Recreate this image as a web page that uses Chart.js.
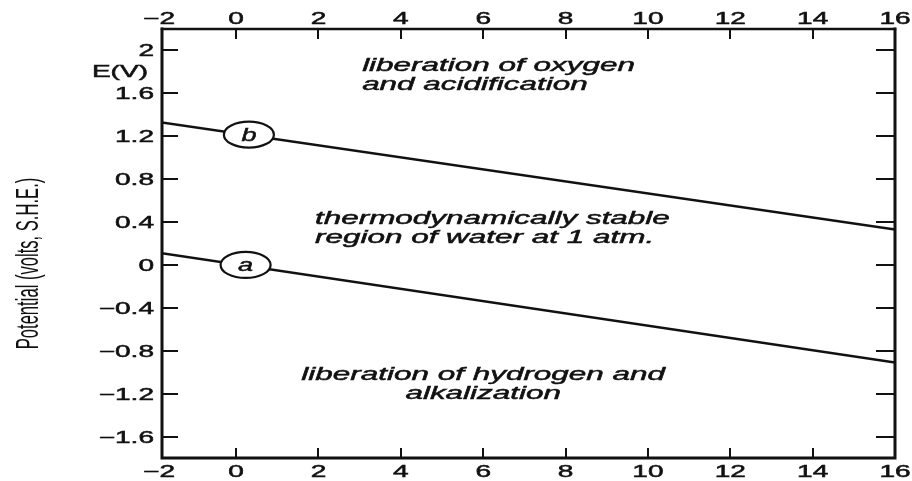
<!DOCTYPE html>
<html>
<head>
<meta charset="utf-8">
<script src="https://cdn.jsdelivr.net/npm/chart.js@4/dist/chart.umd.min.js"></script>
<style>
  html, body { margin: 0; padding: 0; background: #ffffff; }
  canvas { display: block; }
</style>
</head>
<body>
<canvas id="chart" width="912" height="481"></canvas>
<script>
// Stability field of water: E (V vs S.H.E.) against pH
const phPoints = [-2, 16];
const lineA = [0.12, -0.91];   // hydrogen evolution boundary (a)
const lineB = [1.34, 0.33];    // oxygen evolution boundary (b)

const xTicks = [-2, 0, 2, 4, 6, 8, 10, 12, 14, 16];
const xTickLabels = ['\u22122', '0', '2', '4', '6', '8', '10', '12', '14', '16'];
const yTicks = [2, 1.6, 1.2, 0.8, 0.4, 0, -0.4, -0.8, -1.2, -1.6];
const yTickLabels = ['2', '1.6', '1.2', '0.8', '0.4', '0', '\u22120.4', '\u22120.8', '\u22121.2', '\u22121.6'];

// circled line tags
const tagText = ['a', 'b'];
const tagPh = [0.23, 0.31];
const tagE = [0.0, 1.215];

// region captions
const regionText = [
  'liberation of oxygen', 'and acidification',
  'thermodynamically stable', 'region of water at 1 atm.',
  'liberation of hydrogen and', 'alkalization'
];
const regionPh = [3.06, 3.06, 1.915, 1.915, 6.0, 6.0];
const regionE = [1.809, 1.632, 0.382, 0.205, -1.072, -1.249];
const regionAlign = ['left', 'left', 'left', 'left', 'center', 'center'];

const yTitle = 'Potential (volts, S.H.E.)';
const yUnit = 'E(V)';

const FONT = "'Liberation Sans', Arial, Helvetica, sans-serif";
const SX = 1.7;   // horizontal stretch of the lettering
const INK = '#111';

function toPoints(xs, ys) {
  return xs.map((x, i) => ({ x: x, y: ys[i] }));
}

// filled text with a hairline outline so the letters read a little heavier
function wideText(ctx, text, x, y, align, baseline, font, sx) {
  ctx.save();
  ctx.translate(x, y);
  ctx.scale(sx, 1);
  ctx.font = font;
  ctx.textAlign = align;
  ctx.textBaseline = baseline;
  ctx.fillStyle = INK;
  ctx.strokeStyle = INK;
  ctx.lineWidth = 0.5;
  ctx.fillText(text, 0, 0);
  ctx.strokeText(text, 0, 0);
  ctx.restore();
}

const frameAndText = {
  id: 'frameAndText',
  afterDraw(chart) {
    const ctx = chart.ctx;
    const a = chart.chartArea;
    const xs = chart.scales.x;
    const ys = chart.scales.y;
    ctx.save();
    ctx.strokeStyle = INK;
    ctx.fillStyle = INK;
    ctx.lineCap = 'square';

    // frame
    ctx.lineWidth = 3;
    ctx.beginPath();
    ctx.moveTo(a.left, a.top); ctx.lineTo(a.left, a.bottom);
    ctx.moveTo(a.left, a.bottom); ctx.lineTo(a.right, a.bottom);
    ctx.moveTo(a.right, a.top); ctx.lineTo(a.right, a.bottom);
    ctx.stroke();
    ctx.lineWidth = 2.5;
    ctx.beginPath();
    ctx.moveTo(a.left, a.top); ctx.lineTo(a.right, a.top);
    ctx.stroke();

    // inward tick marks
    ctx.lineWidth = 2;
    ctx.lineCap = 'butt';
    ctx.beginPath();
    xTicks.forEach(v => {
      const px = Math.round(xs.getPixelForValue(v));
      if (px <= a.left + 2 || px >= a.right - 2) return;
      ctx.moveTo(px, a.top); ctx.lineTo(px, a.top + 10);
      ctx.moveTo(px, a.bottom); ctx.lineTo(px, a.bottom - 10);
    });
    yTicks.forEach(v => {
      const py = Math.round(ys.getPixelForValue(v));
      ctx.moveTo(a.left, py); ctx.lineTo(a.left + 16, py);
      ctx.moveTo(a.right, py); ctx.lineTo(a.right - 19, py);
    });
    ctx.stroke();

    // tick labels
    const tickFont = '16.5px ' + FONT;
    xTicks.forEach((v, i) => {
      let px = xs.getPixelForValue(v);
      if (px < a.left) px = a.left - 3;
      wideText(ctx, xTickLabels[i], px, a.top - 5, 'center', 'alphabetic', tickFont, SX);
      wideText(ctx, xTickLabels[i], px, a.bottom + 19, 'center', 'alphabetic', tickFont, SX);
    });
    yTicks.forEach((v, i) => {
      const py = ys.getPixelForValue(v);
      wideText(ctx, yTickLabels[i], a.left - 8, py + 6, 'right', 'alphabetic', tickFont, SX);
    });
    wideText(ctx, yUnit, a.left - 14, ys.getPixelForValue(1.755), 'right', 'alphabetic', tickFont, SX);

    // rotated axis title
    ctx.save();
    ctx.translate(38, (a.top + a.bottom) / 2 + 20);
    ctx.scale(1.85, 1);
    ctx.rotate(-Math.PI / 2);
    ctx.font = '16.6px ' + FONT;
    ctx.textAlign = 'center';
    ctx.textBaseline = 'alphabetic';
    ctx.fillStyle = INK;
    ctx.fillText(yTitle, 0, 0);
    ctx.restore();

    // region captions
    const capFont = 'italic 18.5px ' + FONT;
    regionText.forEach((t, i) => {
      wideText(ctx, t, xs.getPixelForValue(regionPh[i]), ys.getPixelForValue(regionE[i]),
        regionAlign[i], 'alphabetic', capFont, SX);
    });

    // circled tags on the boundary lines
    tagText.forEach((t, i) => {
      const cx = xs.getPixelForValue(tagPh[i]);
      const cy = ys.getPixelForValue(tagE[i]);
      ctx.beginPath();
      ctx.ellipse(cx, cy, 25, 13, 0, 0, Math.PI * 2);
      ctx.fillStyle = '#fff';
      ctx.fill();
      ctx.lineWidth = 2.2;
      ctx.strokeStyle = INK;
      ctx.stroke();
      wideText(ctx, t, cx, cy + 6, 'center', 'alphabetic', 'italic 18px ' + FONT, 1.5);
    });
    ctx.restore();
  }
};

new Chart(document.getElementById('chart'), {
  type: 'line',
  data: {
    datasets: [
      { label: 'a', data: toPoints(phPoints, lineA), borderColor: INK, borderWidth: 2.5, pointRadius: 0, tension: 0 },
      { label: 'b', data: toPoints(phPoints, lineB), borderColor: INK, borderWidth: 2.5, pointRadius: 0, tension: 0 }
    ]
  },
  options: {
    responsive: false,
    animation: false,
    events: [],
    layout: { padding: { left: 162, right: 17, top: 29, bottom: 23 } },
    plugins: { legend: { display: false }, tooltip: { enabled: false } },
    scales: {
      x: { type: 'linear', min: -1.8, max: 16, display: false },
      y: { type: 'linear', min: -1.8, max: 2.2, display: false }
    }
  },
  plugins: [frameAndText]
});
</script>
</body>
</html>
